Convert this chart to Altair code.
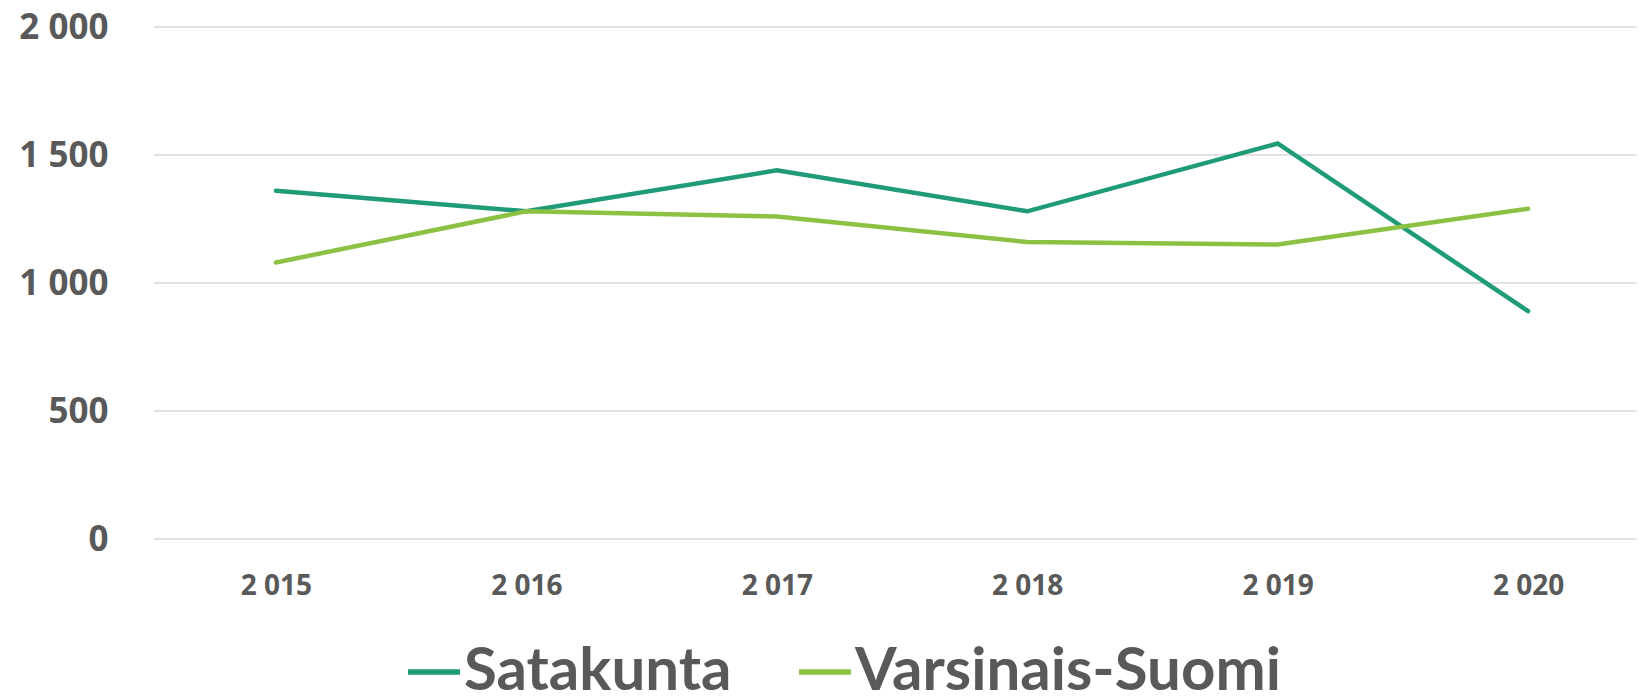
import altair as alt
import pandas as pd

years = ["2 015", "2 016", "2 017", "2 018", "2 019", "2 020"]
satakunta = [1360, 1280, 1440, 1280, 1545, 890]
varsinais = [1080, 1280, 1260, 1160, 1150, 1290]
series = ["Satakunta", "Varsinais-Suomi"]
colors = ["#1f9b77", "#8cc144"]
y_ticks = [0, 500, 1000, 1500, 2000]

rows = []
for name, vals in zip(series, [satakunta, varsinais]):
    for yr, v in zip(years, vals):
        rows.append({"year": yr, "value": v, "series": name})
df = pd.DataFrame(rows)
grid_df = pd.DataFrame({"value": y_ticks})

TEXT = "#595959"
yscale = alt.Scale(domain=[0, 2000], nice=False)

grid = alt.Chart(grid_df).mark_rule(color="#d9d9d9", strokeWidth=1.5).encode(
    y=alt.Y("value:Q", scale=yscale,
            axis=alt.Axis(title=None, values=y_ticks, ticks=False, domain=False, grid=False,
                          labelExpr="replace(format(datum.value, ','), ',', ' ')",
                          labelFont="Open Sans", labelFontSize=35, labelFontWeight="bold",
                          labelColor=TEXT, labelPadding=59)),
    x=alt.value(-13),
    x2=alt.value(1478),
)

lines = alt.Chart(df).mark_line(strokeWidth=4.5, strokeCap="round").encode(
    x=alt.X("year:O", sort=years, scale=alt.Scale(type="point", padding=0.435),
            axis=alt.Axis(title=None, labelAngle=0, ticks=False, domain=False,
                          labelFont="Open Sans", labelFontSize=28, labelFontWeight="bold",
                          labelColor=TEXT, labelPadding=33)),
    y=alt.Y("value:Q", scale=yscale),
    color=alt.Color("series:N", scale=alt.Scale(domain=series, range=colors),
                    legend=alt.Legend(orient="none", legendX=237, legendY=615,
                                      direction="horizontal", title=None,
                                      symbolType="stroke", symbolSize=2704, symbolStrokeWidth=5.5,
                                      labelFont="Lato", labelFontSize=60,
                                      labelFontWeight="bold", labelColor=TEXT,
                                      columnPadding=56, labelOffset=0, labelLimit=1000,
                                      padding=0)),
)

chart = alt.layer(grid, lines).properties(
    width=1470, height=512,
    padding={"left": 159, "top": 19, "right": 0, "bottom": 158},
    autosize=alt.AutoSizeParams(type="none"),
).configure_view(stroke=None)

chart.save("out.html", embed_options={"renderer": "svg", "actions": False})
